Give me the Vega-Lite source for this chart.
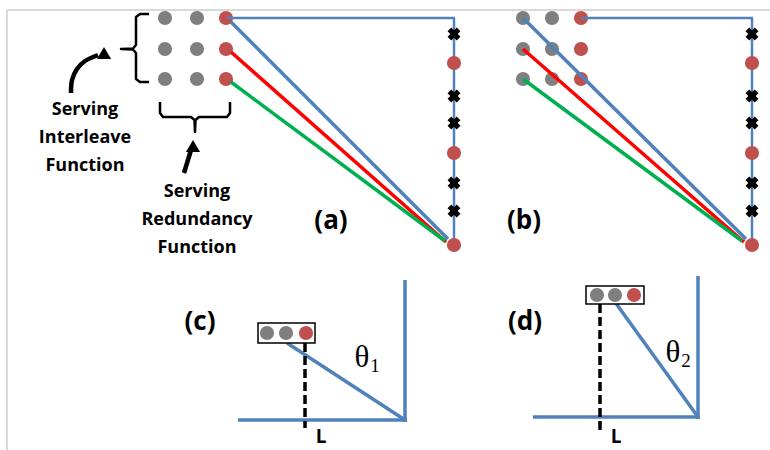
{
  "$schema": "https://vega.github.io/schema/vega-lite/v6.json",
  "width": 770,
  "height": 450,
  "padding": 0,
  "autosize": {"type": "none"},
  "background": "white",
  "config": {"view": {"stroke": null}},
  "datasets": {
    "border": [
      {"x": 7, "y": 10, "x2": 770, "y2": 10},
      {"x": 7, "y": 10, "x2": 7, "y2": 450}
    ],
    "frame": [
      {"x": 227, "y": 18, "x2": 455, "y2": 18},
      {"x": 454, "y": 18, "x2": 454, "y2": 245},
      {"x": 581, "y": 18, "x2": 753, "y2": 18},
      {"x": 752, "y": 18, "x2": 752, "y2": 245}
    ],
    "gridDots": [
      {"x": 165, "y": 18, "state": "idle"}, {"x": 197, "y": 18, "state": "idle"}, {"x": 226, "y": 18, "state": "active"},
      {"x": 165, "y": 49, "state": "idle"}, {"x": 197, "y": 49, "state": "idle"}, {"x": 226, "y": 49, "state": "active"},
      {"x": 165, "y": 79, "state": "idle"}, {"x": 197, "y": 79, "state": "idle"}, {"x": 226, "y": 79, "state": "active"},
      {"x": 523, "y": 18, "state": "idle"}, {"x": 552, "y": 18, "state": "idle"}, {"x": 581, "y": 18, "state": "active"},
      {"x": 523, "y": 49, "state": "idle"}, {"x": 552, "y": 49, "state": "idle"}, {"x": 581, "y": 49, "state": "active"},
      {"x": 523, "y": 79, "state": "idle"}, {"x": 552, "y": 79, "state": "idle"}, {"x": 581, "y": 79, "state": "active"}
    ],
    "diagonals": [
      {"x": 231, "y": 22, "x2": 448, "y2": 239, "row": "row 1"},
      {"x": 231, "y": 52, "x2": 446, "y2": 242, "row": "row 2"},
      {"x": 231, "y": 82, "x2": 445, "y2": 241, "row": "row 3"},
      {"x": 523, "y": 18, "x2": 746, "y2": 239, "row": "row 1"},
      {"x": 523, "y": 49, "x2": 744, "y2": 242, "row": "row 2"},
      {"x": 523, "y": 79, "x2": 742, "y2": 241, "row": "row 3"}
    ],
    "endDots": [
      {"x": 454, "y": 63, "state": "active"}, {"x": 454, "y": 153, "state": "active"}, {"x": 454, "y": 245, "state": "active"},
      {"x": 752, "y": 63, "state": "active"}, {"x": 752, "y": 153, "state": "active"}, {"x": 752, "y": 245, "state": "active"}
    ],
    "crosses": [
      {"x": 454, "y": 34}, {"x": 454, "y": 96}, {"x": 454, "y": 123}, {"x": 454, "y": 183}, {"x": 454, "y": 211},
      {"x": 752, "y": 34}, {"x": 752, "y": 96}, {"x": 752, "y": 123}, {"x": 752, "y": 183}, {"x": 752, "y": 211}
    ],
    "geometry": [
      {"x": 238, "y": 420, "x2": 407, "y2": 420},
      {"x": 405, "y": 422, "x2": 405, "y2": 280},
      {"x": 287, "y": 343, "x2": 405, "y2": 420},
      {"x": 533, "y": 417, "x2": 700, "y2": 417},
      {"x": 698, "y": 419, "x2": 698, "y2": 276},
      {"x": 615, "y": 302, "x2": 698, "y2": 417}
    ],
    "dashed": [
      {"x": 305, "y": 343, "x2": 305, "y2": 428},
      {"x": 600, "y": 304, "x2": 600, "y2": 430}
    ],
    "boxes": [
      {"x": 258, "y": 323, "x2": 315, "y2": 343},
      {"x": 586, "y": 286, "x2": 644, "y2": 304}
    ],
    "boxDots": [
      {"x": 267, "y": 333, "state": "idle"}, {"x": 286, "y": 333, "state": "idle"}, {"x": 306, "y": 333, "state": "active"},
      {"x": 597, "y": 295, "state": "idle"}, {"x": 615, "y": 295, "state": "idle"}, {"x": 634, "y": 295, "state": "active"}
    ],
    "braces": [
      {"b": "v", "i": 1, "x": 149, "y": 14}, {"b": "v", "i": 2, "x": 140, "y": 14}, {"b": "v", "i": 3, "x": 136, "y": 17},
      {"b": "v", "i": 4, "x": 136, "y": 45}, {"b": "v", "i": 5, "x": 133, "y": 48.5}, {"b": "v", "i": 6, "x": 121, "y": 49},
      {"b": "v", "i": 7, "x": 133, "y": 49.5}, {"b": "v", "i": 8, "x": 136, "y": 53}, {"b": "v", "i": 9, "x": 136, "y": 79},
      {"b": "v", "i": 10, "x": 140, "y": 82}, {"b": "v", "i": 11, "x": 149, "y": 82},
      {"b": "h", "i": 1, "x": 160, "y": 102}, {"b": "h", "i": 2, "x": 160, "y": 113}, {"b": "h", "i": 3, "x": 163, "y": 117},
      {"b": "h", "i": 4, "x": 191, "y": 117}, {"b": "h", "i": 5, "x": 194.5, "y": 120}, {"b": "h", "i": 6, "x": 195, "y": 132},
      {"b": "h", "i": 7, "x": 195.5, "y": 120}, {"b": "h", "i": 8, "x": 199, "y": 117}, {"b": "h", "i": 9, "x": 227, "y": 117},
      {"b": "h", "i": 10, "x": 230, "y": 113}, {"b": "h", "i": 11, "x": 230, "y": 102}
    ],
    "curvedArrow": [
      {"i": 1, "x": 71, "y": 93}, {"i": 2, "x": 72, "y": 80}, {"i": 3, "x": 77, "y": 69},
      {"i": 4, "x": 85, "y": 61}, {"i": 5, "x": 98, "y": 55}
    ],
    "straightArrow": [
      {"x": 184, "y": 173, "x2": 191, "y2": 150}
    ],
    "arrowHeads": [
      {"x": 104, "y": 53, "dir": 70},
      {"x": 193, "y": 146, "dir": 15}
    ],
    "notes": [
      {"x": 85, "y": 115, "text": "Serving"},
      {"x": 85, "y": 143, "text": "Interleave"},
      {"x": 85, "y": 171, "text": "Function"},
      {"x": 197, "y": 197, "text": "Serving"},
      {"x": 197, "y": 225, "text": "Redundancy"},
      {"x": 197, "y": 253, "text": "Function"}
    ],
    "panelLabels": [
      {"x": 331, "y": 229, "text": "(a)"},
      {"x": 524, "y": 229, "text": "(b)"},
      {"x": 200, "y": 330, "text": "(c)"},
      {"x": 525, "y": 330, "text": "(d)"}
    ],
    "lLabels": [
      {"x": 321, "y": 447, "text": "L"},
      {"x": 616, "y": 447, "text": "L"}
    ],
    "thetas": [
      {"x": 362, "y": 367, "text": "θ"},
      {"x": 673, "y": 362, "text": "θ"}
    ],
    "subscripts": [
      {"x": 375, "y": 372, "text": "1"},
      {"x": 686, "y": 367, "text": "2"}
    ]
  },
  "encoding": {
    "x": {"field": "x", "type": "quantitative", "scale": {"domain": [0, 770], "nice": false, "zero": false}, "axis": null},
    "y": {"field": "y", "type": "quantitative", "scale": {"domain": [0, 450], "nice": false, "zero": false, "reverse": true}, "axis": null}
  },
  "layer": [
    {
      "data": {"name": "border"},
      "mark": {"type": "rule", "color": "#d9d9d9", "strokeWidth": 2},
      "encoding": {"x2": {"field": "x2"}, "y2": {"field": "y2"}}
    },
    {
      "data": {"name": "gridDots"},
      "mark": {"type": "point", "filled": true, "shape": "circle", "size": 200, "opacity": 1},
      "encoding": {
        "fill": {"field": "state", "type": "nominal", "scale": {"domain": ["idle", "active"], "range": ["#7f7f7f", "#c0504d"]}, "legend": null}
      }
    },
    {
      "data": {"name": "frame"},
      "mark": {"type": "rule", "color": "#4f81bd", "strokeWidth": 2.5},
      "encoding": {"x2": {"field": "x2"}, "y2": {"field": "y2"}}
    },
    {
      "data": {"name": "diagonals"},
      "mark": {"type": "rule", "strokeWidth": 3.5},
      "encoding": {
        "x2": {"field": "x2"}, "y2": {"field": "y2"},
        "stroke": {"field": "row", "type": "nominal", "scale": {"domain": ["row 1", "row 2", "row 3"], "range": ["#4f81bd", "#ff0000", "#00b050"]}, "legend": null}
      }
    },
    {
      "data": {"name": "endDots"},
      "mark": {"type": "point", "filled": true, "shape": "circle", "size": 200, "opacity": 1},
      "encoding": {
        "fill": {"field": "state", "type": "nominal", "scale": {"domain": ["idle", "active"], "range": ["#7f7f7f", "#c0504d"]}, "legend": null}
      }
    },
    {
      "data": {"name": "crosses"},
      "mark": {"type": "point", "filled": true, "shape": "cross", "angle": 45, "size": 170, "color": "black", "opacity": 1}
    },
    {
      "data": {"name": "geometry"},
      "mark": {"type": "rule", "color": "#4f81bd", "strokeWidth": 3.5},
      "encoding": {"x2": {"field": "x2"}, "y2": {"field": "y2"}}
    },
    {
      "data": {"name": "dashed"},
      "mark": {"type": "rule", "color": "black", "strokeWidth": 3.5, "strokeDash": [9, 4]},
      "encoding": {"x2": {"field": "x2"}, "y2": {"field": "y2"}}
    },
    {
      "data": {"name": "boxes"},
      "mark": {"type": "rect", "fill": "white", "stroke": "black", "strokeWidth": 1.5},
      "encoding": {"x2": {"field": "x2"}, "y2": {"field": "y2"}}
    },
    {
      "data": {"name": "boxDots"},
      "mark": {"type": "point", "filled": true, "shape": "circle", "size": 200, "opacity": 1},
      "encoding": {
        "fill": {"field": "state", "type": "nominal", "scale": {"domain": ["idle", "active"], "range": ["#7f7f7f", "#c0504d"]}, "legend": null}
      }
    },
    {
      "data": {"name": "braces"},
      "mark": {"type": "line", "color": "black", "strokeWidth": 2.5, "strokeJoin": "round"},
      "encoding": {"detail": {"field": "b", "type": "nominal"}, "order": {"field": "i", "type": "quantitative"}}
    },
    {
      "data": {"name": "curvedArrow"},
      "mark": {"type": "line", "color": "black", "strokeWidth": 4.5, "interpolate": "cardinal"},
      "encoding": {"order": {"field": "i", "type": "quantitative"}}
    },
    {
      "data": {"name": "straightArrow"},
      "mark": {"type": "rule", "color": "black", "strokeWidth": 4.5},
      "encoding": {"x2": {"field": "x2"}, "y2": {"field": "y2"}}
    },
    {
      "data": {"name": "arrowHeads"},
      "mark": {"type": "point", "filled": true, "shape": "triangle-up", "size": 200, "color": "black", "opacity": 1},
      "encoding": {"angle": {"field": "dir", "type": "quantitative", "scale": {"type": "identity"}}}
    },
    {
      "data": {"name": "notes"},
      "mark": {"type": "text", "font": "Open Sans", "fontWeight": "bold", "fontSize": 18, "align": "center", "baseline": "alphabetic", "color": "black"},
      "encoding": {"text": {"field": "text"}}
    },
    {
      "data": {"name": "panelLabels"},
      "mark": {"type": "text", "font": "Open Sans", "fontWeight": "bold", "fontSize": 26, "align": "center", "baseline": "alphabetic", "color": "black"},
      "encoding": {"text": {"field": "text"}}
    },
    {
      "data": {"name": "lLabels"},
      "mark": {"type": "text", "font": "Open Sans", "fontWeight": "bold", "fontSize": 19, "align": "center", "baseline": "bottom", "color": "black"},
      "encoding": {"text": {"field": "text"}}
    },
    {
      "data": {"name": "thetas"},
      "mark": {"type": "text", "font": "Liberation Serif", "fontSize": 31, "align": "center", "baseline": "alphabetic", "color": "black"},
      "encoding": {"text": {"field": "text"}}
    },
    {
      "data": {"name": "subscripts"},
      "mark": {"type": "text", "font": "Liberation Serif", "fontSize": 19, "align": "center", "baseline": "alphabetic", "color": "black"},
      "encoding": {"text": {"field": "text"}}
    }
  ]
}
